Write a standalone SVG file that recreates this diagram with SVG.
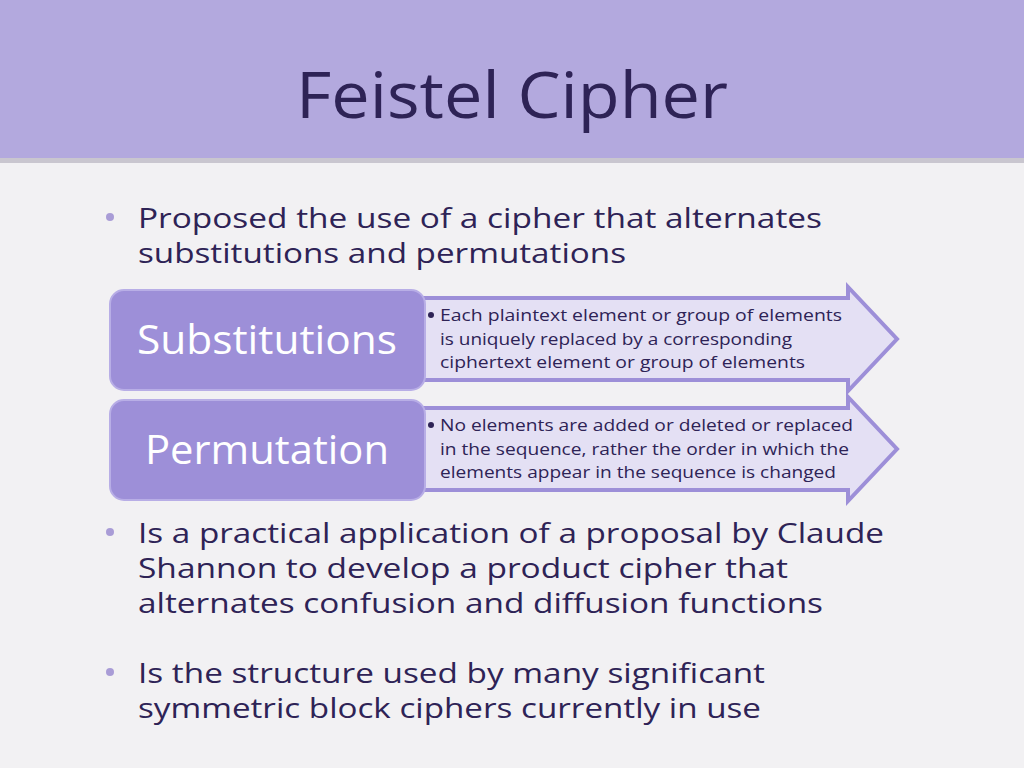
<svg xmlns="http://www.w3.org/2000/svg" width="1024" height="768" viewBox="0 0 1024 768">
<style>
.b{font-family:"Open Sans","Liberation Sans",sans-serif;font-size:28px;fill:#2e2356}
.s{font-family:"Open Sans","Liberation Sans",sans-serif;font-size:17px;fill:#2e2356}
.w{font-family:"Open Sans","Liberation Sans",sans-serif;font-size:40px;fill:#ffffff;text-anchor:middle}
.dot{fill:#a99cd6}
.box{fill:#9d8fd8;stroke:#b8aee6;stroke-width:2}
.arr{fill:#e4e0f4;stroke:#9d8fd8;stroke-width:4;stroke-linejoin:miter}
</style>
<rect width="1024" height="768" fill="#f2f1f3"/>
<rect width="1024" height="160" fill="#b3a9de"/>
<rect y="158" width="1024" height="5" fill="#c9c6cf"/>
<text x="512" y="118" text-anchor="middle" font-family="Open Sans,Liberation Sans,sans-serif" font-size="64" fill="#2e2356" textLength="432" lengthAdjust="spacingAndGlyphs">Feistel Cipher</text>
<circle class="dot" cx="110" cy="217" r="4"/>
<text class="b" x="138" y="228" textLength="684" lengthAdjust="spacingAndGlyphs">Proposed the use of a cipher that alternates</text>
<text class="b" x="138" y="263" textLength="488" lengthAdjust="spacingAndGlyphs">substitutions and permutations</text>
<g id="subst-arrow"><path class="arr" d="M392,298 H848 V287 L897,339 L848,391 V380 H392 Z"/>
<circle cx="431" cy="315" r="3" fill="#2e2356"/>
<text class="s" x="440" y="321" textLength="402" lengthAdjust="spacingAndGlyphs">Each plaintext element or group of elements</text>
<text class="s" x="440" y="345" textLength="352" lengthAdjust="spacingAndGlyphs">is uniquely replaced by a corresponding</text>
<text class="s" x="440" y="368" textLength="365" lengthAdjust="spacingAndGlyphs">ciphertext element or group of elements</text></g>
<g id="subst"><rect class="box" x="110" y="290" width="315" height="100" rx="14"/>
<text class="w" x="267" y="354" textLength="260" lengthAdjust="spacingAndGlyphs">Substitutions</text></g>
<g id="perm-arrow"><path class="arr" d="M392,408 H848 V397 L897,449 L848,501 V490 H392 Z"/>
<circle cx="431" cy="425" r="3" fill="#2e2356"/>
<text class="s" x="440" y="431" textLength="413" lengthAdjust="spacingAndGlyphs">No elements are added or deleted or replaced</text>
<text class="s" x="440" y="455" textLength="409" lengthAdjust="spacingAndGlyphs">in the sequence, rather the order in which the</text>
<text class="s" x="440" y="478" textLength="396" lengthAdjust="spacingAndGlyphs">elements appear in the sequence is changed</text></g>
<g id="perm"><rect class="box" x="110" y="400" width="315" height="100" rx="14"/>
<text class="w" x="267" y="464" textLength="244" lengthAdjust="spacingAndGlyphs">Permutation</text></g>
<circle class="dot" cx="110" cy="532" r="4"/>
<text class="b" x="138" y="543" textLength="746" lengthAdjust="spacingAndGlyphs">Is a practical application of a proposal by Claude</text>
<text class="b" x="138" y="578" textLength="650" lengthAdjust="spacingAndGlyphs">Shannon to develop a product cipher that</text>
<text class="b" x="138" y="613" textLength="685" lengthAdjust="spacingAndGlyphs">alternates confusion and diffusion functions</text>
<circle class="dot" cx="110" cy="672" r="4"/>
<text class="b" x="138" y="683" textLength="627" lengthAdjust="spacingAndGlyphs">Is the structure used by many significant</text>
<text class="b" x="138" y="718" textLength="623" lengthAdjust="spacingAndGlyphs">symmetric block ciphers currently in use</text>
</svg>
